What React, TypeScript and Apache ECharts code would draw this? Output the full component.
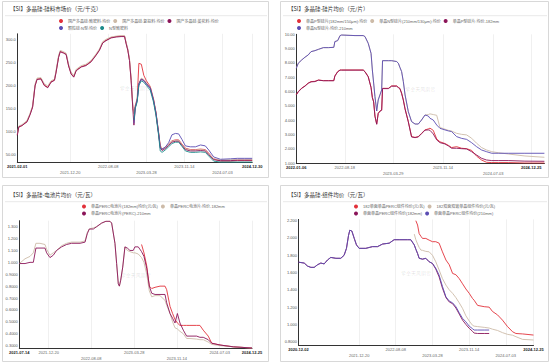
import React, { useEffect, useRef } from 'react';
import * as echarts from 'echarts';

const RED = '#e2313a';
const BEIGE = '#cdbba8';
const PURPLE = '#8b1559';
const BLUE = '#5b4db3';
const TEAL = '#1d8b8b';
const FONT = "'Liberation Sans', 'Noto Sans CJK SC', sans-serif";

// ---------- Panel 1: 硅料市场价 ----------
const title1 = '【SI】多晶硅-硅料市场价（元/千克）';
const names1 = ['国产多晶硅:致密料:均价', '国产多晶硅:复投料:均价', '国产多晶硅:菜花料:均价', '颗粒硅:N型:均价', 'N型致密料'];
const dates1 = ['2021-02-01', '2021-02-10', '2021-03-01', '2021-04-01', '2021-04-20', '2021-05-05', '2021-05-20', '2021-06-01', '2021-06-25', '2021-07-15',
  '2021-08-05', '2021-08-25', '2021-09-15', '2021-09-25', '2021-10-10', '2021-10-20', '2021-11-10', '2021-11-25', '2021-12-10', '2021-12-25',
  '2022-01-10', '2022-01-25', '2022-02-25', '2022-03-25', '2022-04-25', '2022-05-25', '2022-06-15', '2022-07-05', '2022-07-25', '2022-08-25',
  '2022-09-25', '2022-10-25', '2022-11-15', '2022-11-25', '2022-12-05', '2022-12-15', '2022-12-25', '2023-01-05', '2023-01-11', '2023-01-19',
  '2023-01-31', '2023-02-10', '2023-02-25', '2023-03-12', '2023-03-28', '2023-04-20', '2023-05-10', '2023-05-25', '2023-06-10', '2023-06-20',
  '2023-07-01', '2023-07-20', '2023-08-10', '2023-08-30', '2023-09-20', '2023-10-10', '2023-10-30', '2023-11-20', '2023-12-20', '2024-01-20',
  '2024-02-20', '2024-03-20', '2024-04-10', '2024-05-10', '2024-06-20', '2024-08-20', '2024-10-01', '2024-11-15', '2024-12-30'];
const red1 = [93, 110, 113, 122, 138, 154, 200, 214, 215, 201, 196, 208, 212, 230, 262, 274, 271, 268, 243, 226,
  219, 233, 241, 244, 252, 266, 277, 293, 298, 304, 306, 307, 307, 291, 277, 255, 212, 150, 140, 156,
  172, 248, 246, 222, 210, 198, 171, 142, 98, 70, 62, 66, 73, 80, 82, 82, 73, 64, 61, 61,
  62, 61, 53, 41, 36, 36, 37, 37, 37];
const beige1 = [95, 112, 115, 124, 140, 156, 203, 216, 217, 204, 199, 210, 214, 233, 265, 276, 273, 270, 246, 229,
  222, 235, 243, 246, 254, 268, 279, 295, 300, 305, 307, 308, 308, 293, 279, 258, 216, 148, 138, 155,
  170, 206, 216, 213, 206, 197, 170, 141, 97, 69, 61, 65, 72, 79, 81, 81, 72, 63, 60, 60,
  61, 60, 52, 41, 39, 39, 40, 40, 40];
const purple1 = [92, 110, 113, 121, 137, 153, 199, 213, 214, 200, 195, 207, 211, 229, 261, 273, 270, 267, 242, 225,
  218, 232, 240, 243, 251, 265, 276, 292, 297, 303, 305, 306, 306, 290, 276, 254, 211, 145, 114, 152,
  168, 204, 214, 211, 204, 195, 168, 139, 95, 66, 59, 63, 70, 77, 79, 79, 70, 61, 58, 58,
  59, 58, 50, 39, 37, 37, 38, 38, 38];
const blue1From = '2023-01-11';
const blue1 = [118, 152, 168, 203, 213, 210, 203, 194, 168, 140, 97, 64, 62, 66, 76, 93, 96, 95, 83, 69,
  67, 67, 71, 69, 60, 45, 40, 41, 42, 42, 42];
const teal1From = '2023-01-11';
const teal1 = [125, 150, 165, 200, 210, 207, 200, 190, 164, 135, 92, 58, 55, 60, 67, 74, 77, 77, 68, 58,
  55, 55, 56, 55, 47, 36, 34, 34, 34, 34, 34];
const ticks1 = ['2021-02-01', '2021-12-20', '2022-08-08', '2023-03-28', '2023-11-14', '2024-07-03', '2024-12-30'];
const rows1 = [0, 1, 0, 1, 0, 1, 0];

// ---------- Panel 2: 硅片均价 ----------
const title2 = '【SI】多晶硅-硅片均价（元/片）';
const names2 = ['单晶P型硅片(182mm/150μm):均价', '单晶N型硅片(210mm/130μm):均价', '单晶P型硅片:均价-182mm', '单晶N型硅片:均价-210mm'];
const dates2 = ['2022-01-06', '2022-01-15', '2022-01-31', '2022-02-15', '2022-03-02', '2022-03-15', '2022-04-02', '2022-04-18', '2022-05-11', '2022-06-03',
  '2022-06-28', '2022-07-03', '2022-07-16', '2022-07-27', '2022-08-03', '2022-10-04', '2022-11-11', '2022-11-19', '2022-12-04', '2022-12-17',
  '2022-12-23', '2022-12-29', '2023-01-04', '2023-01-12', '2023-01-19', '2023-01-27', '2023-02-04', '2023-02-08', '2023-03-07', '2023-03-22',
  '2023-04-14', '2023-04-22', '2023-04-29', '2023-05-07', '2023-05-15', '2023-05-23', '2023-06-07', '2023-06-22', '2023-07-08', '2023-07-23',
  '2023-08-07', '2023-08-23', '2023-09-07', '2023-09-15', '2023-09-30', '2023-10-16', '2023-10-31', '2023-11-23', '2023-12-09', '2023-12-24',
  '2024-01-16', '2024-02-08', '2024-03-02', '2024-03-25', '2024-04-17', '2024-05-10', '2024-06-02', '2024-06-26', '2024-07-26', '2024-09-10',
  '2024-11-26', '2025-02-24'];
const red2 = [5.80, 6.00, 6.25, 6.40, 6.60, 6.70, 6.72, 6.81, 6.77, 6.77, 6.77, 7.10, 7.40, 7.51, 7.51, 7.51, 7.51, 7.40, 7.05, 6.30,
  5.60, 5.30, 4.30, 3.74, 4.49, 4.65, 4.72, 6.23, 6.23, 6.40, 6.40, 6.30, 6.23, 5.90, 5.42, 4.80, 3.91, 2.86, 2.81, 2.86,
  3.09, 3.33, 3.40, 3.45, 3.30, 2.70, 2.50, 2.38, 2.25, 2.10, 2.16, 2.05, 2.02, 1.90, 1.50, 1.23, 1.07, 1.05, 1.05, 1.05,
  1.02, 1.02];
const beige2 = [7.63, 7.98, 8.21, 8.40, 8.56, 8.79, 8.86, 8.95, 9.07, 9.07, 9.09, 9.49, 9.56, 9.91, 9.95, 9.91, 9.91, 9.84, 9.37, 8.67,
  7.51, 6.60, 5.65, 4.65, 5.42, 5.77, 6.12, 8.16, 8.16, 8.16, 8.10, 7.98, 7.70, 7.40, 6.70, 5.77, 4.60, 3.91, 3.74, 3.74,
  4.02, 4.37, 4.40, 4.45, 4.40, 4.35, 3.50, 3.38, 3.30, 3.25, 3.09, 3.02, 2.98, 2.75, 2.40, 2.10, 1.93, 1.81, 1.74, 1.65,
  1.51, 1.42];
const purple2 = [5.77, 5.98, 6.23, 6.38, 6.58, 6.68, 6.70, 6.80, 6.76, 6.76, 6.76, 7.08, 7.38, 7.50, 7.50, 7.50, 7.50, 7.38, 7.03, 6.28,
  5.58, 5.28, 4.28, 3.72, 4.47, 4.63, 4.70, 6.21, 6.21, 6.38, 6.38, 6.28, 6.21, 5.88, 5.40, 4.78, 3.89, 2.84, 2.79, 2.84,
  3.07, 3.31, 3.33, 3.30, 3.05, 2.63, 2.44, 2.35, 2.21, 2.05, 2.05, 2.02, 2.00, 1.81, 1.58, 1.35, 1.23, 1.19, 1.19, 1.19,
  1.15, 1.14];
const blue2 = [7.63, 7.98, 8.21, 8.40, 8.56, 8.79, 8.86, 8.95, 9.07, 9.07, 9.09, 9.49, 9.56, 9.91, 9.95, 9.91, 9.91, 9.84, 9.37, 8.67,
  7.51, 6.60, 5.65, 4.65, 5.42, 5.77, 6.12, 8.16, 8.16, 8.16, 8.10, 7.98, 7.70, 7.40, 6.70, 5.77, 4.60, 3.91, 3.74, 3.74,
  4.02, 4.37, 4.30, 4.14, 4.02, 3.67, 3.44, 3.33, 3.26, 3.21, 2.86, 2.74, 2.67, 2.44, 2.16, 1.93, 1.81, 1.70, 1.70, 1.70,
  1.70, 1.70];
const ticks2 = ['2022-01-06', '2022-08-18', '2023-03-29', '2023-11-14', '2024-07-03', '2024-12-25'];
const rows2 = [0, 0, 1, 0, 1, 0];

// ---------- Panel 3: 电池片均价 ----------
const title3 = '【SI】多晶硅-电池片均价（元/瓦）';
const names3 = ['单晶PERC电池片(182mm)均价(元/瓦)', '单晶PERC电池片:均价-182mm', '单晶PERC电池片(PERC)-210mm'];
const dates3 = ['2021-07-14', '2021-08-14', '2021-09-10', '2021-09-28', '2021-10-12', '2021-11-03', '2021-11-30', '2021-12-09', '2021-12-27', '2022-01-14',
  '2022-02-01', '2022-02-28', '2022-03-27', '2022-04-23', '2022-06-08', '2022-07-05', '2022-07-17', '2022-07-28', '2022-08-19', '2022-09-06',
  '2022-10-03', '2022-10-26', '2022-11-17', '2022-11-26', '2022-12-14', '2022-12-23', '2023-01-01', '2023-01-07', '2023-01-14', '2023-01-25',
  '2023-02-06', '2023-02-19', '2023-03-05', '2023-03-23', '2023-04-01', '2023-04-19', '2023-05-07', '2023-05-20', '2023-06-04', '2023-06-18',
  '2023-07-01', '2023-07-19', '2023-08-15', '2023-09-11', '2023-09-20', '2023-10-08', '2023-10-22', '2023-11-04', '2023-11-17', '2023-12-01',
  '2023-12-19', '2024-01-06', '2024-01-24', '2024-02-29', '2024-03-18', '2024-04-05', '2024-05-02', '2024-05-21', '2024-07-05', '2024-09-15',
  '2024-12-25'];
const red3From = '2023-05-07';
const red3 = [1.15, 1.08, 0.97, 0.80, 0.78, 0.79, 0.80, 0.80, 0.77, 0.63, 0.57, 0.52, 0.49, 0.47, 0.47, 0.47, 0.47, 0.47, 0.47, 0.43,
  0.38, 0.32, 0.305, 0.29, 0.28];
const beige3 = [0.99, 1.03, 1.05, 1.08, 1.16, 1.16, 1.15, 1.11, 1.06, 1.08, 1.10, 1.14, 1.16, 1.17, 1.17, 1.18, 1.25, 1.28, 1.29, 1.30,
  1.33, 1.345, 1.345, 1.33, 1.16, 0.99, 0.82, 0.80, 0.85, 0.96, 1.13, 1.10, 1.09, 1.08, 1.08, 1.07, 1.04, 1.00, 0.90, 0.76,
  0.71, 0.72, 0.72, 0.68, 0.64, 0.57, 0.50, 0.45, 0.44, 0.42, 0.40, 0.36, 0.36, 0.355, 0.35, 0.35, 0.33, 0.31, 0.30, 0.29,
  0.28];
const purple3 = [0.99, 0.99, 1.00, 1.00, 1.12, 1.12, 1.12, 1.08, 1.04, 1.06, 1.10, 1.13, 1.15, 1.16, 1.16, 1.17, 1.24, 1.28, 1.28, 1.30,
  1.33, 1.345, 1.345, 1.33, 1.16, 0.99, 0.82, 0.80, 0.85, 0.96, 1.13, 1.12, 1.10, 1.10, 1.13, 1.13, 1.09, 1.05, 0.95, 0.80,
  0.74, 0.73, 0.73, 0.73, 0.66, 0.57, 0.53, 0.49, 0.57, 0.49, 0.43, 0.38, 0.38, 0.38, 0.37, 0.37, 0.35, 0.32, 0.305, 0.29,
  0.28];
const ticks3 = ['2021-07-14', '2021-12-20', '2022-08-08', '2023-03-28', '2023-11-14', '2024-07-03', '2024-12-25'];
const rows3 = [0, 0, 1, 0, 1, 0, 0];

// ---------- Panel 4: 组件均价 ----------
const title4 = '【SI】多晶硅-组件均价（元/瓦）';
const names4 = ['182单面单晶PERC组件均价(元/瓦)', '182双面双玻单晶组件均价(元/瓦)', '单面单晶PERC组件均价(182mm)', '单面单晶PERC组件均价(210mm)'];
const dates4 = ['2020-12-02', '2021-01-07', '2021-01-28', '2021-02-18', '2021-03-11', '2021-04-01', '2021-04-22', '2021-05-13', '2021-06-03', '2021-06-24',
  '2021-07-26', '2021-08-26', '2021-09-16', '2021-10-01', '2021-10-14', '2021-10-22', '2021-11-04', '2021-11-19', '2021-12-03', '2021-12-20',
  '2022-01-31', '2022-03-14', '2022-04-15', '2022-05-17', '2022-06-28', '2022-07-29', '2022-08-30', '2022-10-21', '2022-11-11', '2022-12-03',
  '2022-12-13', '2022-12-24', '2023-01-03', '2023-01-14', '2023-01-24', '2023-02-14', '2023-03-07', '2023-03-28', '2023-04-18', '2023-05-09',
  '2023-05-30', '2023-06-21', '2023-07-12', '2023-08-02', '2023-08-23', '2023-09-13', '2023-10-04', '2023-10-25', '2023-11-15', '2023-12-06',
  '2023-12-16', '2024-01-07', '2024-02-18', '2024-03-20', '2024-04-10', '2024-05-12', '2024-06-12', '2024-07-14', '2024-08-15', '2024-09-05',
  '2024-10-17', '2024-12-25'];
const red4From = '2022-12-13';
const red4 = [2.20, 2.15, 2.05, 2.02, 1.995, 1.995, 1.975, 1.957, 1.957, 1.94, 1.84, 1.745, 1.69, 1.59, 1.575, 1.53, 1.47, 1.41, 1.36, 1.30,
  1.28, 1.22, 1.205, 1.20, 1.15, 1.11, 1.05, 0.975, 0.915, 0.895, 0.89, 0.877];
const beige4From = '2022-12-03';
const beige4 = [2.045, 1.98, 1.93, 1.89, 1.86, 1.857, 1.845, 1.84, 1.80, 1.725, 1.63, 1.53, 1.455, 1.40, 1.36, 1.31, 1.25, 1.185, 1.10, 1.04,
  0.99, 0.98, 0.975, 0.966, 0.958, 0.945, 0.93, 0.905, 0.885, 0.875, 0.858, 0.827, 0.82];
const purple4 = [1.72, 1.71, 1.675, 1.66, 1.66, 1.69, 1.71, 1.70, 1.745, 1.775, 1.765, 1.765, 1.80, 1.88, 2.03, 2.09, 2.08, 1.995, 1.92, 1.88,
  1.88, 1.90, 1.90, 1.93, 1.94, 1.98, 1.98, 1.98, 1.98, 1.92, 1.87, 1.82, 1.765, 1.76, 1.755, 1.765, 1.725, 1.705, 1.64, 1.55,
  1.42, 1.31, 1.26, 1.24, 1.19, 1.12, 1.05, 1.00, 0.955, 0.92, 0.90, 0.895, 0.895, 0.895];
const blue4 = [1.72, 1.71, 1.675, 1.66, 1.66, 1.69, 1.71, 1.70, 1.745, 1.775, 1.765, 1.765, 1.80, 1.88, 2.03, 2.09, 2.08, 1.995, 1.92, 1.88,
  1.88, 1.90, 1.90, 1.93, 1.94, 1.98, 1.98, 1.98, 1.98, 1.92, 1.87, 1.82, 1.765, 1.76, 1.755, 1.765, 1.725, 1.705, 1.65, 1.57,
  1.44, 1.32, 1.27, 1.25, 1.205, 1.135, 1.07, 1.03, 0.98, 0.95, 0.935, 0.935, 0.935, 0.935];
const ticks4 = ['2020-12-02', '2021-12-20', '2022-08-08', '2023-03-28', '2023-11-14', '2024-07-03', '2024-12-25'];
const rows4 = [0, 1, 0, 1, 0, 1, 0];

const WATERMARK = '紫金天风期货';

const ts = (s: string) => {
  const [y, m, d] = s.split('-').map(Number);
  return Date.UTC(y, m - 1, d);
};

type SeriesDef = { name: string; color: string; values: number[]; from?: string };

const panels = [
  {
    title: title1, dates: dates1, ticks: ticks1, rows: rows1,
    series: [
      { name: names1[0], color: RED, values: red1 },
      { name: names1[1], color: BEIGE, values: beige1 },
      { name: names1[2], color: PURPLE, values: purple1 },
      { name: names1[3], color: BLUE, values: blue1, from: blue1From },
      { name: names1[4], color: TEAL, values: teal1, from: teal1From },
    ] as SeriesDef[],
    box: [2, 1, 266, 176], titleAt: [10, 6], sepY: 15.7,
    grid: { left: 17.3, top: 33.8, width: 234.9, height: 128.7 },
    yMin: 33, yMax: 312, ySplit: 5, yInterval: undefined as number | undefined, showExt: false,
    legend: { left: 59, top: 19, width: 195, textWidth: 52 },
  },
  {
    title: title2, dates: dates2, ticks: ticks2, rows: rows2,
    series: [
      { name: names2[0], color: RED, values: red2 },
      { name: names2[1], color: BEIGE, values: beige2 },
      { name: names2[2], color: PURPLE, values: purple2 },
      { name: names2[3], color: BLUE, values: blue2 },
    ] as SeriesDef[],
    box: [280, 1, 268, 176], titleAt: [288, 6], sepY: 15.7,
    grid: { left: 296.3, top: 34.3, width: 248.1, height: 129 },
    yMin: 1, yMax: 10, ySplit: 9, yInterval: 1, showExt: true,
    legend: { left: 297, top: 19, width: 250, textWidth: 70 },
  },
  {
    title: title3, dates: dates3, ticks: ticks3, rows: rows3,
    series: [
      { name: names3[0], color: RED, values: red3, from: red3From },
      { name: names3[1], color: BEIGE, values: beige3 },
      { name: names3[2], color: PURPLE, values: purple3 },
    ] as SeriesDef[],
    box: [2, 185, 266, 176], titleAt: [10, 192], sepY: 201.7,
    grid: { left: 19.3, top: 220.7, width: 232.7, height: 127.9 },
    yMin: 0.275, yMax: 1.35, ySplit: 10, yInterval: undefined, showExt: false,
    legend: { left: 82, top: 204.5, width: 170, textWidth: 72 },
  },
  {
    title: title4, dates: dates4, ticks: ticks4, rows: rows4,
    series: [
      { name: names4[0], color: RED, values: red4, from: red4From },
      { name: names4[1], color: BEIGE, values: beige4, from: beige4From },
      { name: names4[2], color: PURPLE, values: purple4 },
      { name: names4[3], color: BLUE, values: blue4 },
    ] as SeriesDef[],
    box: [280, 185, 268, 176], titleAt: [288, 192], sepY: 201.7,
    grid: { left: 298.5, top: 219.4, width: 235, height: 126.2 },
    yMin: 0.755, yMax: 2.215, ySplit: 7, yInterval: undefined, showExt: false,
    legend: { left: 354, top: 204.5, width: 175, textWidth: 75 },
  },
];

function buildOption() {
  const series: any[] = [];
  panels.forEach((p, pi) => {
    p.series.forEach((s) => {
      const start = s.from ? p.dates.indexOf(s.from) : 0;
      const pts = s.values.map((v, i) => [ts(p.dates[start + i]), v]);
      series.push({
        type: 'line', name: s.name, xAxisIndex: pi, yAxisIndex: pi, data: pts,
        symbol: 'none', showSymbol: false, lineStyle: { width: 0.9, color: s.color },
        itemStyle: { color: s.color },
      });
    });
  });

  const graphic: any[] = [];
  panels.forEach((p) => {
    const [bx, by, bw, bh] = p.box;
    graphic.push({ type: 'rect', silent: true, z: -10, shape: { x: bx + 0.5, y: by + 0.5, width: bw, height: bh }, style: { fill: 'none', stroke: '#d8d8d8', lineWidth: 1 } });
    graphic.push({ type: 'line', silent: true, shape: { x1: bx + 3, y1: p.sepY, x2: bx + bw - 1, y2: p.sepY }, style: { stroke: '#e2e2e2', lineWidth: 0.8 } });
    graphic.push({
      type: 'text', silent: true, z: -5,
      x: p.grid.left + p.grid.width / 2, y: p.grid.top + p.grid.height / 2 - 10,
      style: { text: WATERMARK, fill: 'rgba(0,0,0,0.13)', fontSize: 5, align: 'center', verticalAlign: 'middle', fontFamily: FONT },
    });
  });

  return {
    animation: false,
    backgroundColor: '#ffffff',
    textStyle: { fontFamily: FONT },
    title: panels.map((p) => ({
      text: p.title, left: p.titleAt[0], top: p.titleAt[1], padding: 0,
      textStyle: { fontSize: 5.5, fontWeight: 'normal', color: '#333', fontFamily: "'Noto Sans CJK SC', sans-serif" },
    })),
    legend: panels.map((p) => ({
      data: p.series.map((s) => s.name), left: p.legend.left, top: p.legend.top, width: p.legend.width,
      padding: 0, itemWidth: 4, itemHeight: 4, itemGap: 3, icon: 'circle', selectedMode: false,
      textStyle: { fontSize: 4, color: '#666', width: p.legend.textWidth, overflow: 'truncate', fontFamily: FONT },
    })),
    grid: panels.map((p) => ({ ...p.grid, containLabel: false })),
    xAxis: panels.map((p, pi) => {
      const tickTs = p.ticks.map(ts);
      return {
        type: 'value', gridIndex: pi, scale: true,
        min: ts(p.dates[0]), max: ts(p.dates[p.dates.length - 1]),
        axisLine: { show: true, lineStyle: { color: '#333', width: 1 } },
        axisTick: { show: false, customValues: tickTs },
        splitLine: { show: true, lineStyle: { color: '#e6e6e6', width: 0.6 } },
        axisLabel: {
          customValues: tickTs, fontSize: 4, margin: 2, color: '#666',
          formatter: (v: number) => {
            let k = -1;
            tickTs.forEach((t, j) => { if (Math.abs(t - v) < 43200000) k = j; });
            if (k < 0) return '';
            const bold = k === 0 || k === tickTs.length - 1;
            const style = (bold ? 'b' : 'n') + (p.rows[k] ? '2' : '');
            return `{${style}|${p.ticks[k]}}`;
          },
          rich: {
            b: { fontSize: 4, fontWeight: 'bold', color: '#222', fontFamily: FONT },
            n: { fontSize: 4, color: '#666', fontFamily: FONT },
            b2: { fontSize: 4, fontWeight: 'bold', color: '#222', fontFamily: FONT, padding: [6, 0, 0, 0] },
            n2: { fontSize: 4, color: '#666', fontFamily: FONT, padding: [6, 0, 0, 0] },
          },
        },
      };
    }),
    yAxis: panels.map((p, pi) => ({
      type: 'value', gridIndex: pi, min: p.yMin, max: p.yMax,
      ...(p.yInterval ? { interval: p.yInterval } : { splitNumber: p.ySplit }),
      axisLine: { show: true, lineStyle: { color: '#333', width: 1 } },
      axisTick: { show: false },
      splitLine: { show: false },
      axisLabel: {
        fontSize: 4, color: '#555', margin: 1.5, showMinLabel: p.showExt, showMaxLabel: p.showExt,
        formatter: (v: number) => Number(v).toPrecision(4),
      },
    })),
    graphic,
    series,
  };
}

export default function App() {
  const ref = useRef<HTMLDivElement>(null);
  useEffect(() => {
    if (!ref.current) return;
    const chart = echarts.init(ref.current, undefined, { renderer: 'svg' });
    chart.setOption(buildOption() as any);
    return () => chart.dispose();
  }, []);
  return (
    <div
      ref={ref}
      style={{ position: 'fixed', left: 0, top: 0, width: 550, height: 362, background: '#fff' }}
    />
  );
}
